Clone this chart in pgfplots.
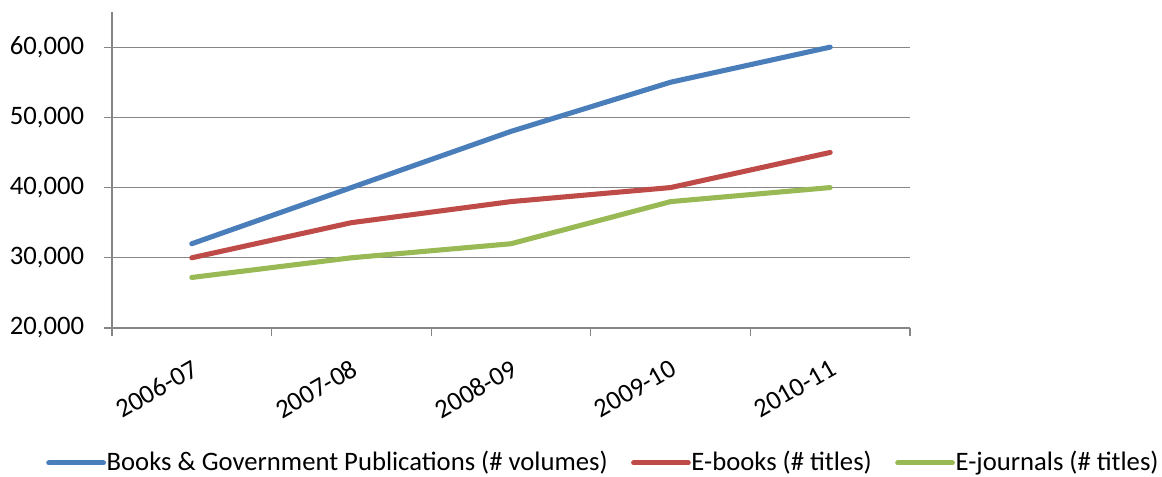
\documentclass[border=0pt]{standalone}
\usepackage{pgfplots}
\pgfplotsset{compat=1.18}
\usetikzlibrary{calc}
\usepackage{fontspec}
\setmainfont{Carlito}
\definecolor{cblue}{HTML}{4A7EBB}
\definecolor{cred}{HTML}{BE4B48}
\definecolor{cgreen}{HTML}{98B954}
\definecolor{cgrid}{HTML}{868686}
\begin{document}
\fontsize{20}{24}\selectfont
\begin{tikzpicture}
\begin{axis}[
  scale only axis,
  width=598.5pt, height=237pt,
  xmin=-0.5, xmax=4.5,
  ymin=20000, ymax=65000,
  axis x line=bottom, axis y line=left,
  axis line style={-, draw=cgrid, line width=0.9pt},
  xtick={-0.5,0.5,1.5,2.5,3.5,4.5},
  x tick label as interval,
  xticklabels={2006-07,2007-08,2008-09,2009-10,2010-11},
  ytick={20000,30000,40000,50000,60000},
  tick align=outside,
  major tick length=6pt,
  tick style={draw=cgrid, line width=0.9pt},
  ymajorgrids,
  grid style={draw=cgrid, line width=0.9pt},
  /pgf/number format/.cd, 1000 sep={,}, assume math mode=true,
  /pgfplots/.cd,
  yticklabel style={font=\fontsize{20}{24}\selectfont, text=black},
  yticklabel shift=8pt,
  xticklabel style={font=\fontsize{20}{24}\selectfont, text=black, rotate=30, anchor=north east, inner sep=2pt},
  xticklabel shift=14pt,
  scaled y ticks=false,
  legend style={at={(0.615,-0.427)}, anchor=center, draw=none, legend columns=3,
    font=\fontsize{20}{24}\selectfont,
    /tikz/every even column/.append style={column sep=17pt},
    nodes={inner sep=0.5pt}},
  legend image code/.code={\draw[#1] (0pt,0pt) -- (41pt,0pt);},
  every axis plot/.append style={line width=3.8pt, line cap=round, line join=round},
]
\addplot[cblue] coordinates {(0,32000) (1,40000) (2,48000) (3,55000) (4,60000)};
\addlegendentry{Books \& Government Publications (\# volumes)}
\addplot[cred] coordinates {(0,30000) (1,35000) (2,38000) (3,40000) (4,45000)};
\addlegendentry{E-books (\# titles)}
\addplot[cgreen] coordinates {(0,27200) (1,30000) (2,32000) (3,38000) (4,40000)};
\addlegendentry{E-journals (\# titles)}
\coordinate (O) at (rel axis cs:0,0);
\end{axis}
\pgfresetboundingbox
\path[use as bounding box] ($(O)+(-84pt,-111pt)$) rectangle ++(871.5pt,357pt);
\end{tikzpicture}
\end{document}
